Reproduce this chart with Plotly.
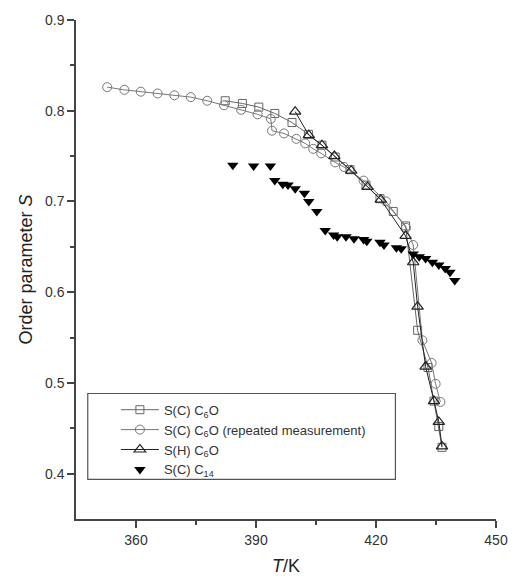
import plotly.graph_objects as go

# S(C) C6O
sq_T = [382.3, 386.6, 390.7, 394.7, 399.0, 403.1, 406.5, 409.8, 413.5, 417.5, 421.0, 424.3, 427.4, 430.4, 433.0, 434.5, 435.7, 436.5]
sq_S = [0.811, 0.808, 0.804, 0.797, 0.787, 0.774, 0.762, 0.749, 0.735, 0.718, 0.703, 0.689, 0.673, 0.558, 0.517, 0.480, 0.452, 0.429]

# S(C) C6O (repeated measurement)
ci_T = [352.8, 357.1, 361.2, 365.4, 369.6, 373.7, 377.8, 382.0, 386.3, 390.4, 393.7,
        394.0, 397.0, 400.1, 402.3, 404.3, 406.3, 409.8, 412.0, 416.9, 422.5, 427.5, 429.3,
        431.6, 433.9, 434.9, 436.1]
ci_S = [0.826, 0.823, 0.821, 0.819, 0.817, 0.815, 0.811, 0.806, 0.801, 0.796, 0.791,
        0.778, 0.775, 0.769, 0.764, 0.758, 0.753, 0.743, 0.738, 0.723, 0.700, 0.671, 0.652,
        0.547, 0.522, 0.499, 0.479]

# S(H) C6O
tr_T = [399.8, 403.2, 406.5, 409.6, 413.8, 417.9, 421.2, 427.4, 429.3, 430.4, 432.4, 434.5, 435.7, 436.5]
tr_S = [0.799, 0.773, 0.762, 0.750, 0.734, 0.716, 0.702, 0.662, 0.633, 0.584, 0.518, 0.480, 0.457, 0.430]

# S(C) C14
c14_T = [384.2, 389.4, 393.6, 394.7, 396.7, 398.0, 399.8, 402.1, 403.2, 405.2, 407.3, 409.4, 410.3,
         412.5, 414.5, 416.9, 417.7, 421.0, 422.0, 425.1, 426.3, 429.3, 430.8, 432.4, 434.1, 435.7,
         437.3, 438.5, 439.7]
c14_S = [0.740, 0.739, 0.739, 0.723, 0.719, 0.718, 0.714, 0.709, 0.700, 0.689, 0.668, 0.663, 0.661,
         0.661, 0.659, 0.658, 0.656, 0.655, 0.652, 0.649, 0.648, 0.642, 0.639, 0.637, 0.633, 0.630,
         0.626, 0.622, 0.613]

x_ticks = [360, 390, 420, 450]
y_ticks = [0.4, 0.5, 0.6, 0.7, 0.8, 0.9]

fig = go.Figure()
fig.add_trace(go.Scatter(x=sq_T, y=sq_S, mode="lines+markers", name="S(C) C<sub>6</sub>O",
                         line=dict(color="#666666", width=1),
                         marker=dict(symbol="square-open", size=8, color="#666666", line=dict(width=1))))
fig.add_trace(go.Scatter(x=ci_T, y=ci_S, mode="lines+markers", name="S(C) C<sub>6</sub>O (repeated measurement)",
                         line=dict(color="#777777", width=1),
                         marker=dict(symbol="circle-open", size=9, color="#777777", line=dict(width=1))))
fig.add_trace(go.Scatter(x=tr_T, y=tr_S, mode="lines+markers", name="S(H) C<sub>6</sub>O",
                         line=dict(color="#222222", width=1),
                         marker=dict(symbol="triangle-up-open", size=10, color="#222222", line=dict(width=1.2))))
fig.add_trace(go.Scatter(x=c14_T, y=c14_S, mode="markers", name="S(C) C<sub>14</sub>",
                         marker=dict(symbol="triangle-down", size=10, color="#000000")))

axis_common = dict(showline=True, linecolor="#444444", linewidth=1.5, ticks="outside",
                   ticklen=7, tickwidth=1.5, tickcolor="#444444", showgrid=False, zeroline=False,
                   tickfont=dict(family="Liberation Sans, Arial", size=14, color="#333333"))

fig.update_layout(
    width=520, height=585,
    margin=dict(l=76, r=14, t=20, b=48),
    paper_bgcolor="white", plot_bgcolor="white",
    font=dict(family="Liberation Sans, Arial", color="#222222"),
    xaxis=dict(range=[345, 450], tickvals=x_ticks, **axis_common,
               minor=dict(tickvals=[375, 405, 435], ticks="outside", ticklen=4, tickwidth=1.5, tickcolor="#444444"),
               title=dict(text="<i>T</i>/K", font=dict(size=18, color="#222222"), standoff=13)),
    yaxis=dict(range=[0.35, 0.9], tickvals=y_ticks, tickformat=".1f", **axis_common,
               minor=dict(tickvals=[0.45, 0.55, 0.65, 0.75, 0.85], ticks="outside", ticklen=4, tickwidth=1.5, tickcolor="#444444"),
               title=dict(text="Order parameter <i>S</i>", font=dict(size=18, color="#222222"), standoff=8)),
    legend=dict(x=0.095, y=0.249, xanchor="left", yanchor="top", bgcolor="rgba(0,0,0,0)",
                borderwidth=0, font=dict(family="Liberation Sans, Arial", size=13, color="#333333"),
                itemwidth=38, tracegroupgap=0),
    shapes=[dict(type="rect", xref="paper", yref="paper", x0=0.028, x1=0.7605, y0=0.0793, y1=0.2515,
                 line=dict(color="#555555", width=1.2), fillcolor="rgba(0,0,0,0)")],
)

fig.write_html("out.html")
